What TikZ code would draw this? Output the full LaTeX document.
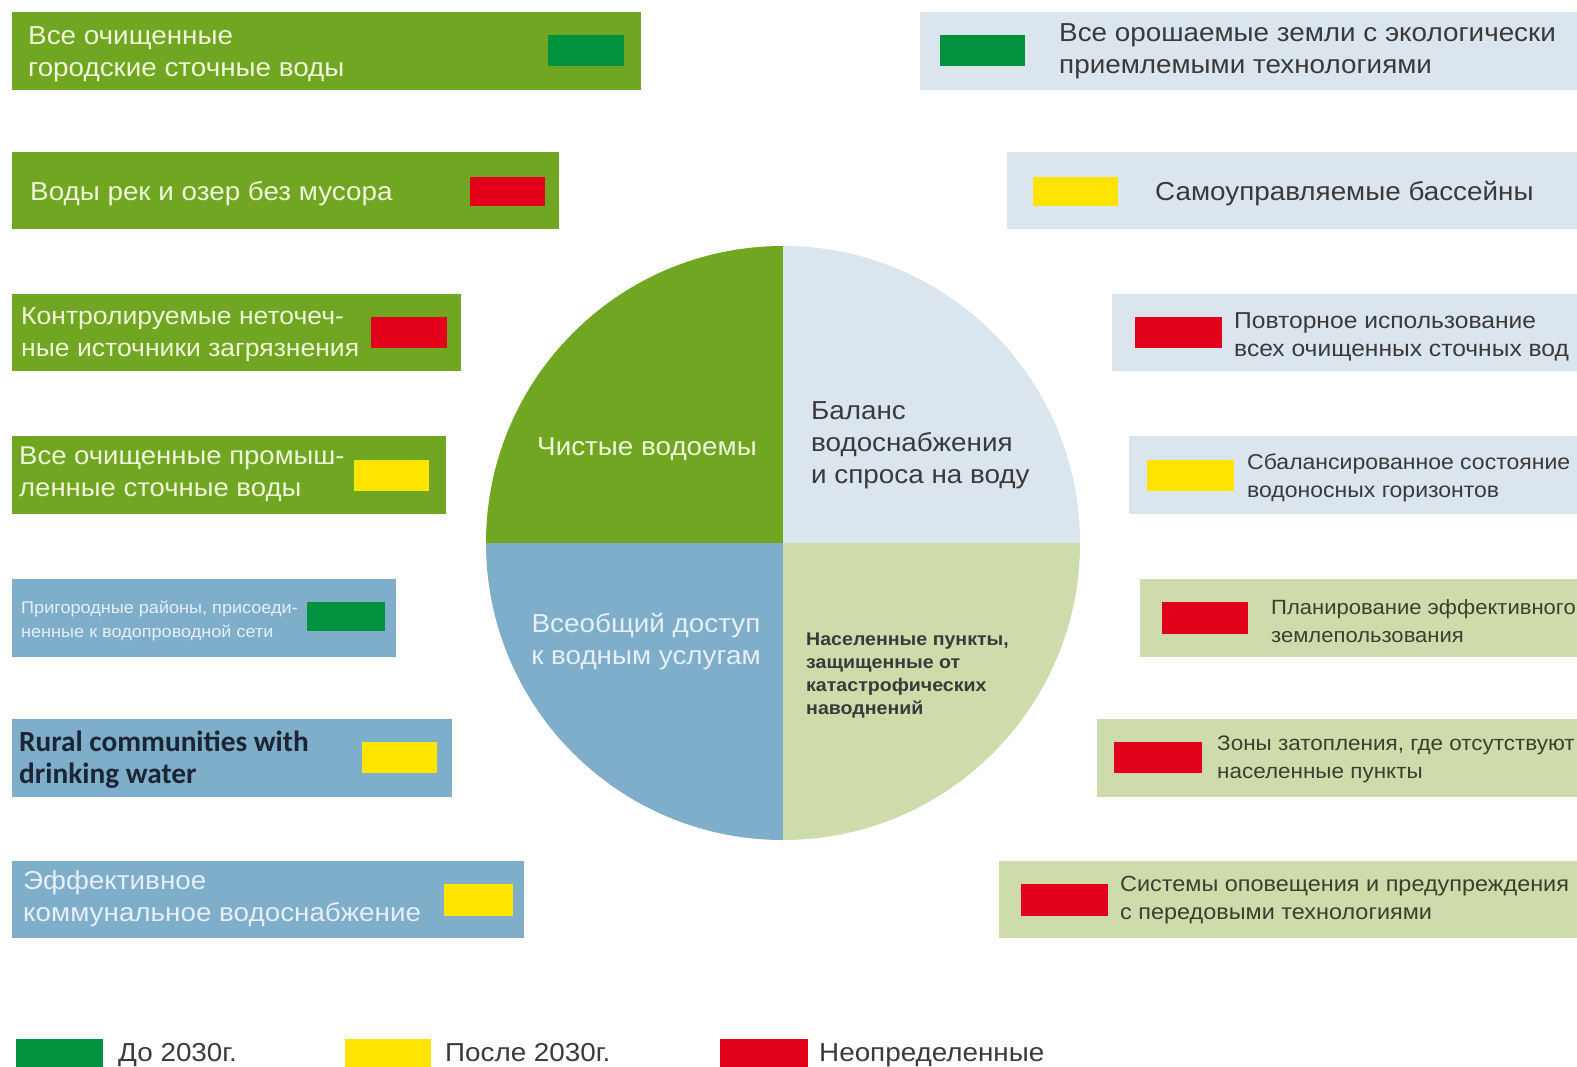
\documentclass[tikz,border=0pt]{standalone}
\usepackage{fontspec}
\setmainfont{Liberation Sans}[FakeStretch=1.07]
\newfontfamily\carlito{Carlito}
\definecolor{gbox}{RGB}{113,166,34}
\definecolor{lbox}{RGB}{218,229,238}
\definecolor{bbox}{RGB}{127,174,203}
\definecolor{pbox}{RGB}{206,219,171}
\definecolor{indg}{RGB}{0,146,63}
\definecolor{indr}{RGB}{226,0,26}
\definecolor{indy}{RGB}{255,228,0}
\definecolor{paletxt}{RGB}{240,246,218}
\definecolor{paleblue}{RGB}{230,239,245}
\definecolor{darktxt}{RGB}{58,58,58}
\definecolor{olivetxt}{RGB}{58,64,46}
\definecolor{navytxt}{RGB}{27,37,51}
\tikzset{
  lbl/.style={anchor=west,align=left,inner sep=0pt},
  big/.style={font=\fontsize{26}{32}\selectfont},
}
\begin{document}
\begin{tikzpicture}[x=1pt,y=-1pt]
\useasboundingbox (0,0) rectangle (1577,1067);
\clip (0,0) rectangle (1577,1067);
\fill[white] (0,0) rectangle (1577,1067);

% ---------- left boxes ----------
\fill[gbox] (12,12) rectangle (641,90);
\fill[indg] (548,35) rectangle (624,66);
\node[lbl,big,text=paletxt] (l1) at (28,54) {Все очищенные\\городские сточные воды};

\fill[gbox] (12,152) rectangle (559,229);
\fill[indr] (470,177) rectangle (545,206);
\node[lbl,big,text=paletxt] (l2) at (30,194) {Воды рек и озер без мусора};

\fill[gbox] (12,294) rectangle (461,371);
\fill[indr] (371,317) rectangle (447,348);
\node[lbl,text=paletxt,font=\fontsize{24.8}{32}\selectfont] (l3) at (21,335) {Контролируемые неточеч-\\ные источники загрязнения};

\fill[gbox] (12,436) rectangle (446,514);
\fill[indy] (354,460) rectangle (429,491);
\node[lbl,text=paletxt,font=\fontsize{25.7}{32}\selectfont] (l4) at (19,474) {Все очищенные промыш-\\ленные сточные воды};

\fill[bbox] (12,579) rectangle (396,657);
\fill[indg] (307,602) rectangle (385,631);
\node[lbl,text=paleblue,font=\fontsize{16.9}{24}\selectfont] (l5) at (21,621) {Пригородные районы, присоеди-\\ненные к водопроводной сети};

\fill[bbox] (12,719) rectangle (452,797);
\fill[indy] (362,742) rectangle (437,773);
\node[lbl,text=navytxt,font=\carlito\bfseries\fontsize{29.3}{32}\selectfont] (l6) at (19,760) {Rural communities with\\drinking water};

\fill[bbox] (12,861) rectangle (524,938);
\fill[indy] (444,884) rectangle (513,916);
\node[lbl,big,text=paleblue] (l7) at (23,899) {Эффективное\\коммунальное водоснабжение};

% ---------- right boxes ----------
\fill[lbox] (920,12) rectangle (1577,90);
\fill[indg] (940,35) rectangle (1025,66);
\node[lbl,big,text=darktxt] (r1) at (1059,51) {Все орошаемые земли с экологически\\приемлемыми технологиями};

\fill[lbox] (1007,152) rectangle (1577,229);
\fill[indy] (1033,177) rectangle (1118,206);
\node[lbl,big,text=darktxt] (r2) at (1155,194) {Самоуправляемые бассейны};

\fill[lbox] (1112,294) rectangle (1577,371);
\fill[indr] (1135,317) rectangle (1222,348);
\node[lbl,text=darktxt,font=\fontsize{23}{28}\selectfont] (r3) at (1234,337) {Повторное использование\\всех очищенных сточных вод};

\fill[lbox] (1129,436) rectangle (1577,514);
\fill[indy] (1147,460) rectangle (1234,491);
\node[lbl,text=darktxt,font=\fontsize{21.5}{28}\selectfont] (r4) at (1247,478) {Сбалансированное состояние\\водоносных горизонтов};

\fill[pbox] (1140,579) rectangle (1577,657);
\fill[indr] (1162,602) rectangle (1248,634);
\node[lbl,text=olivetxt,font=\fontsize{20.6}{28}\selectfont] (r5) at (1271,621) {Планирование эффективного\\землепользования};

\fill[pbox] (1097,719) rectangle (1577,797);
\fill[indr] (1114,742) rectangle (1202,773);
\node[lbl,text=olivetxt,font=\fontsize{21}{28}\selectfont] (r6) at (1217,759) {Зоны затопления, где отсутствуют\\населенные пункты};

\fill[pbox] (999,861) rectangle (1577,938);
\fill[indr] (1021,884) rectangle (1108,916);
\node[lbl,text=olivetxt,font=\fontsize{21.9}{28}\selectfont] (r7) at (1120,900) {Системы оповещения и предупреждения\\с передовыми технологиями};

% ---------- pie ----------
\coordinate (c) at (783,543);
\begin{scope}
  \clip (c) circle[radius=297];
  \fill[gbox] (c) rectangle (480,240);
  \fill[lbox] (c) rectangle (1090,240);
  \fill[pbox] (c) rectangle (1090,850);
  \fill[bbox] (c) rectangle (480,850);
\end{scope}

\node[inner sep=0pt,big,text=paletxt] (p1) at (647,449) {Чистые водоемы};
\node[lbl,big,text=darktxt] (p2) at (811,445) {Баланс\\водоснабжения\\и спроса на воду};
\node[inner sep=0pt,align=center,big,text=paleblue] (p3) at (646,642) {Всеобщий доступ\\к водным услугам};
\node[lbl,text=darktxt,font=\bfseries\fontsize{18.3}{23}\selectfont] (p4) at (806,676) {Населенные пункты,\\защищенные от\\катастрофических\\наводнений};

% ---------- legend ----------
\fill[indg] (16,1039) rectangle (103,1067);
\node[lbl,big,text=darktxt,anchor=base west] (g1) at (118,1061) {До 2030г.};
\fill[indy] (345,1039) rectangle (431,1067);
\node[lbl,big,text=darktxt,anchor=base west] (g2) at (445,1061) {После 2030г.};
\fill[indr] (720,1039) rectangle (808,1067);
\node[lbl,big,text=darktxt,anchor=base west] (g3) at (819,1061) {Неопределенные};
\end{tikzpicture}
\end{document}
